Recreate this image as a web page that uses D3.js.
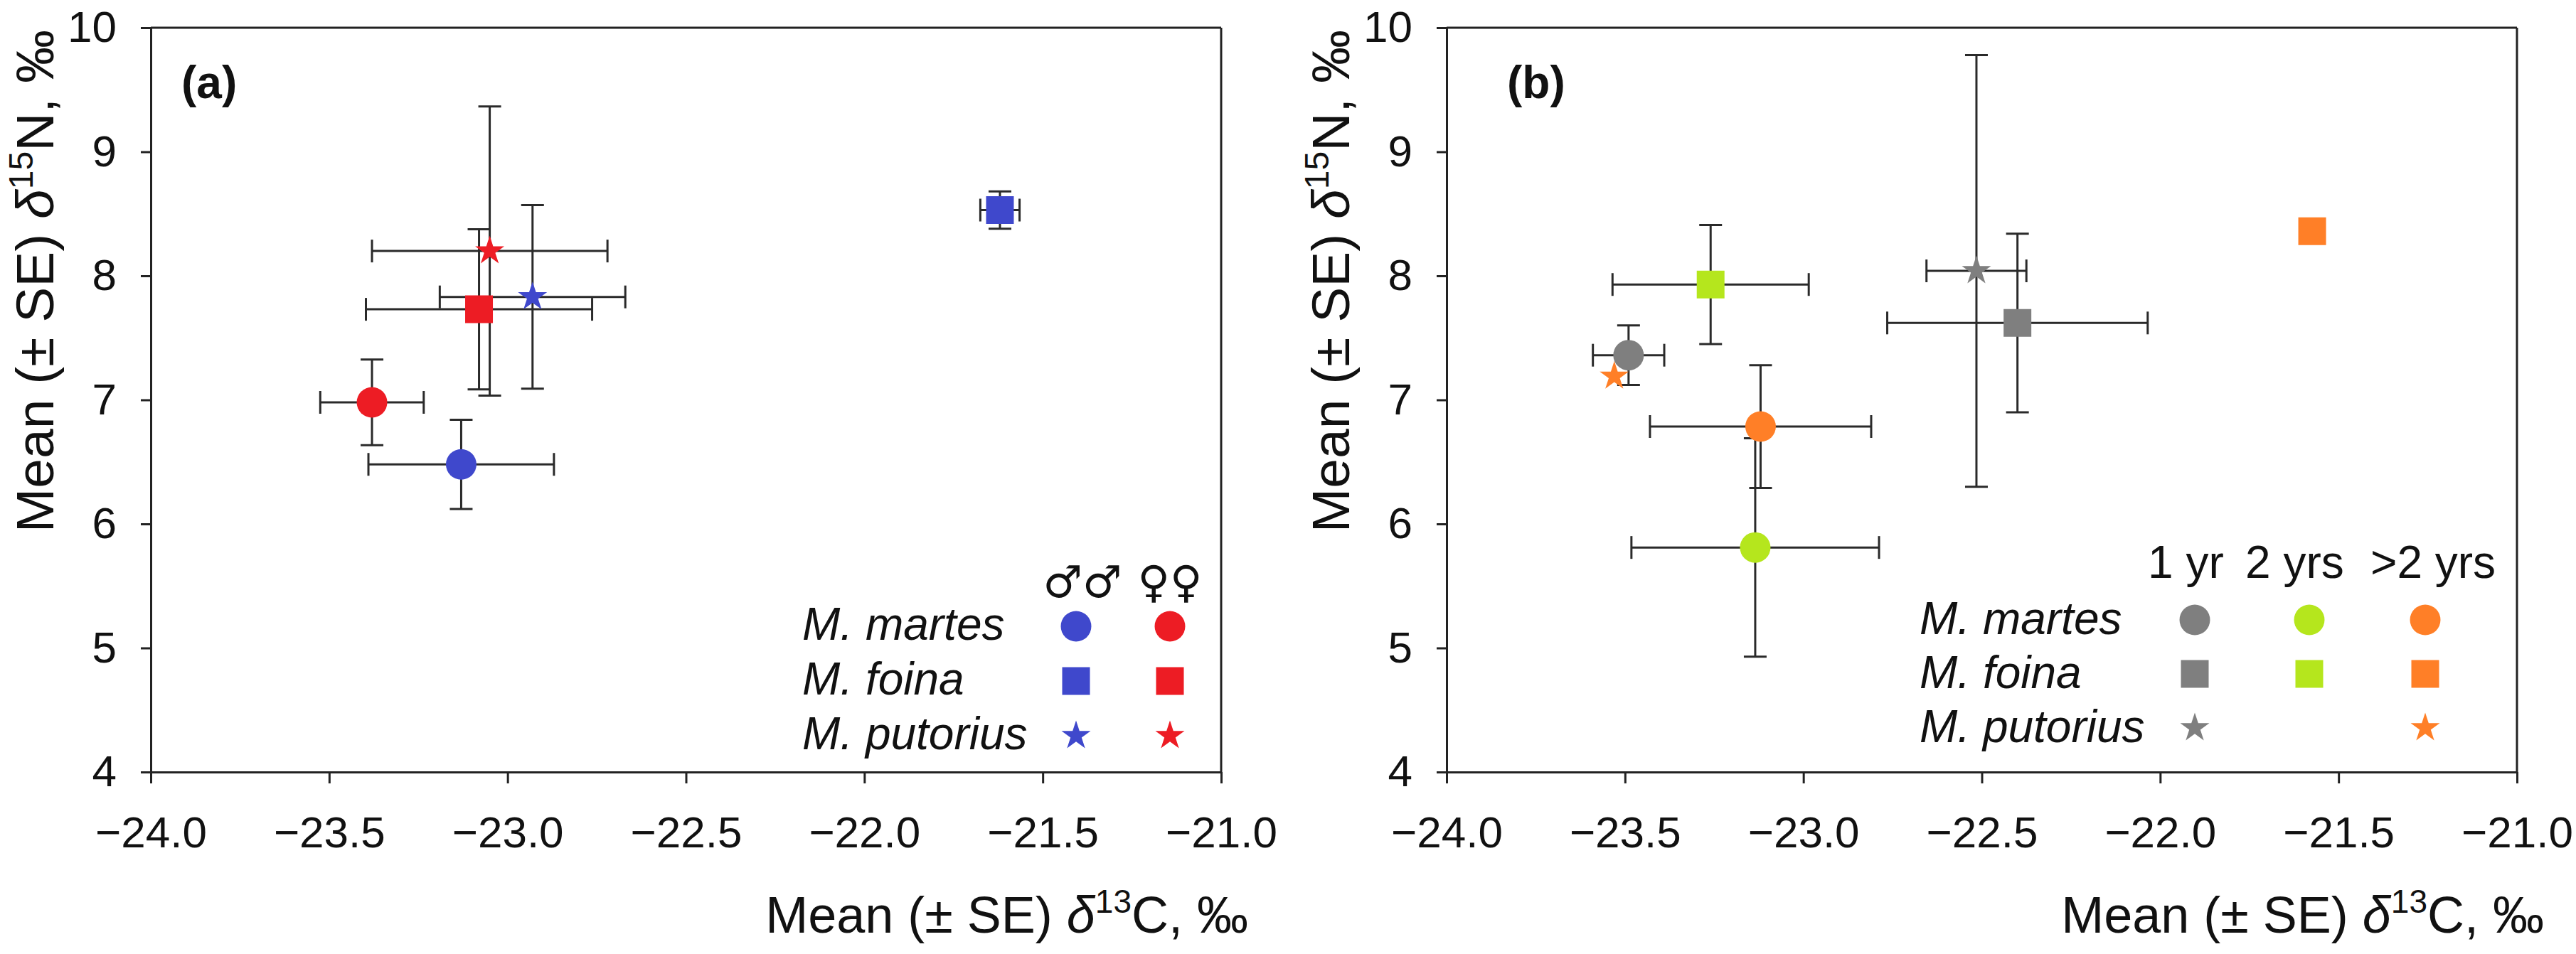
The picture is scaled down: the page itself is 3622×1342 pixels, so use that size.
<!DOCTYPE html>
<html>
<head>
<meta charset="utf-8">
<script src="https://cdn.jsdelivr.net/npm/d3@7"></script>
<style>
  body { margin: 0; background: #fff; }
  svg { display: block; font-family: "Liberation Sans", Arial, sans-serif; }
  .axis path, .axis line { stroke: #222; stroke-width: 3; }
  .axis text { font-size: 62px; fill: #111; }
  .frame { stroke: #222; stroke-width: 3; }
  .err { stroke: #2a2a2a; stroke-width: 3; fill: none; }
</style>
</head>
<body>
<svg></svg>
<script>
const width = 3622;
const height = 1342;

// axis ticks (shared by both panels)
const xTicks = [-24, -23.5, -23, -22.5, -22, -21.5, -21];
const yTicks = [4, 5, 6, 7, 8, 9, 10];

// panel (a): sex
const sexLabels = ["♂♂", "♀♀"];
const speciesLabels = ["M. martes", "M. foina", "M. putorius"];
const aSpecies = ["M. martes", "M. martes", "M. foina", "M. foina", "M. putorius", "M. putorius"];
const aSex = ["♂♂", "♀♀", "♂♂", "♀♀", "♂♂", "♀♀"];
const aC = [-23.13, -23.38, -21.62, -23.08, -22.93, -23.05];
const aCse = [0.26, 0.145, 0.055, 0.317, 0.26, 0.33];
const aN = [6.48, 6.98, 8.53, 7.73, 7.83, 8.20];
const aNse = [0.36, 0.345, 0.15, 0.645, 0.74, 1.165];

// panel (b): age
const ageLabels = ["1 yr", "2 yrs", ">2 yrs"];
const bSpecies = ["M. martes", "M. martes", "M. martes", "M. foina", "M. foina", "M. foina", "M. putorius", "M. putorius"];
const bAge = ["1 yr", "2 yrs", ">2 yrs", "1 yr", "2 yrs", ">2 yrs", "1 yr", ">2 yrs"];
const bC = [-23.49, -23.135, -23.12, -22.40, -23.26, -21.574, -22.515, -23.53];
const bCse = [0.10, 0.347, 0.31, 0.365, 0.275, 0, 0.14, 0];
const bN = [7.36, 5.81, 6.785, 7.62, 7.93, 8.36, 8.04, 7.19];
const bNse = [0.24, 0.88, 0.495, 0.72, 0.48, 0, 1.74, 0];

const sexColor = d3.scaleOrdinal(sexLabels, ["#3F48CC", "#ED1C24"]);
const ageColor = d3.scaleOrdinal(ageLabels, ["#7F7F7F", "#B5E61D", "#FF7F27"]);
const shape = d3.scaleOrdinal(speciesLabels, [d3.symbolCircle, d3.symbolSquare, d3.symbolStar]);
const shapeSize = d3.scaleOrdinal(speciesLabels, [1450, 1521, 520]);

const svg = d3.select("svg")
    .attr("width", width)
    .attr("height", height);

const y = d3.scaleLinear().domain([4, 10]).range([1086, 39]);

function drawPanel(x0, label, labelX, points) {
    const x = d3.scaleLinear().domain([-24, -21]).range([x0, x0 + 1505]);
    const g = svg.append("g");

    g.append("g")
        .attr("class", "axis")
        .attr("transform", `translate(0,${y(4)})`)
        .call(d3.axisBottom(x).tickValues(xTicks).tickFormat(d3.format(".1f"))
            .tickSize(16).tickSizeOuter(0).tickPadding(46));

    g.append("g")
        .attr("class", "axis")
        .attr("transform", `translate(${x(-24)},0)`)
        .call(d3.axisLeft(y).tickValues(yTicks).tickFormat(d3.format("d"))
            .tickSize(14).tickSizeOuter(0).tickPadding(34));

    // top and right frame
    g.append("line").attr("class", "frame")
        .attr("x1", x(-24)).attr("x2", x(-21)).attr("y1", y(10)).attr("y2", y(10));
    g.append("line").attr("class", "frame")
        .attr("x1", x(-21)).attr("x2", x(-21)).attr("y1", y(10)).attr("y2", y(4));

    // axis titles
    const xt = g.append("text")
        .attr("x", x(-21) + 38)
        .attr("y", 1312)
        .attr("text-anchor", "end")
        .attr("font-size", 72)
        .attr("fill", "#111");
    xt.append("tspan").text("Mean (± SE) ");
    xt.append("tspan").attr("font-style", "italic").text("δ");
    xt.append("tspan").attr("font-size", 46).attr("dy", -28).text("13");
    xt.append("tspan").attr("dy", 28).text("C, ‰");

    const yt = g.append("text")
        .attr("transform", `translate(${x0 - 137},42) rotate(-90)`)
        .attr("text-anchor", "end")
        .attr("font-size", 75)
        .attr("fill", "#111");
    yt.append("tspan").text("Mean (± SE) ");
    yt.append("tspan").attr("font-style", "italic").text("δ");
    yt.append("tspan").attr("font-size", 48).attr("dy", -29).text("15");
    yt.append("tspan").attr("dy", 29).text("N, ‰");

    // panel label
    g.append("text")
        .attr("x", labelX)
        .attr("y", 138)
        .attr("font-size", 64)
        .attr("font-weight", "bold")
        .attr("fill", "#111")
        .text(label);

    // error bars
    const cap = 16;
    const bars = g.append("g").attr("class", "err");
    points.filter(d => d.cse > 0).forEach(d => {
        const cy = y(d.n), xl = x(d.c - d.cse), xr = x(d.c + d.cse);
        bars.append("line").attr("x1", xl).attr("x2", xr).attr("y1", cy).attr("y2", cy);
        bars.append("line").attr("x1", xl).attr("x2", xl).attr("y1", cy - cap).attr("y2", cy + cap);
        bars.append("line").attr("x1", xr).attr("x2", xr).attr("y1", cy - cap).attr("y2", cy + cap);
    });
    points.filter(d => d.nse > 0).forEach(d => {
        const cx = x(d.c), yt2 = y(d.n + d.nse), yb = y(d.n - d.nse);
        bars.append("line").attr("x1", cx).attr("x2", cx).attr("y1", yt2).attr("y2", yb);
        bars.append("line").attr("x1", cx - cap).attr("x2", cx + cap).attr("y1", yt2).attr("y2", yt2);
        bars.append("line").attr("x1", cx - cap).attr("x2", cx + cap).attr("y1", yb).attr("y2", yb);
    });

    // markers
    g.selectAll(".pt")
        .data(points)
        .join("path")
        .attr("class", "pt")
        .attr("transform", d => `translate(${x(d.c)},${y(d.n)})`)
        .attr("d", d => d3.symbol(shape(d.species), shapeSize(d.species))())
        .attr("fill", d => d.color);

    return g;
}

// panel (a)
const pointsA = aC.map((c, i) => ({
    c: c, cse: aCse[i], n: aN[i], nse: aNse[i],
    species: aSpecies[i], color: sexColor(aSex[i])
}));
drawPanel(212, "(a)", 255, pointsA);

// panel (b)
const pointsB = bC.map((c, i) => ({
    c: c, cse: bCse[i], n: bN[i], nse: bNse[i],
    species: bSpecies[i], color: ageColor(bAge[i])
}));
drawPanel(2034, "(b)", 2119, pointsB);

// legend (a)
const legA = svg.append("g");
const colA = [1513, 1645];
const rowsA = [881, 958, 1035];
legA.selectAll(".hdr")
    .data(sexLabels)
    .join("text")
    .attr("x", (d, i) => colA[i] + (i === 0 ? 9 : 0))
    .attr("y", 840)
    .attr("text-anchor", "middle")
    .attr("font-family", "DejaVu Sans")
    .attr("font-size", 62)
    .attr("fill", "#111")
    .text(d => d);
legA.selectAll(".sp")
    .data(speciesLabels)
    .join("text")
    .attr("x", 1128)
    .attr("y", (d, i) => rowsA[i] + 19)
    .attr("font-size", 64)
    .attr("font-style", "italic")
    .attr("fill", "#111")
    .text(d => d);
speciesLabels.forEach((sp, i) => {
    sexLabels.forEach((sx, j) => {
        legA.append("path")
            .attr("transform", `translate(${colA[j]},${rowsA[i]})`)
            .attr("d", d3.symbol(shape(sp), shapeSize(sp))())
            .attr("fill", sexColor(sx));
    });
});

// legend (b)
const legB = svg.append("g");
const colB = [3086, 3247, 3410];
const hdrB = [3020, 3157, 3333];
const rowsB = [872, 948, 1024];
legB.selectAll(".hdr")
    .data(ageLabels)
    .join("text")
    .attr("x", (d, i) => hdrB[i])
    .attr("y", 813)
    .attr("font-size", 64)
    .attr("fill", "#111")
    .text(d => d);
legB.selectAll(".sp")
    .data(speciesLabels)
    .join("text")
    .attr("x", 2699)
    .attr("y", (d, i) => rowsB[i] + 20)
    .attr("font-size", 64)
    .attr("font-style", "italic")
    .attr("fill", "#111")
    .text(d => d);
bSpecies.forEach((sp, i) => {
    const j = ageLabels.indexOf(bAge[i]);
    legB.append("path")
        .attr("transform", `translate(${colB[j]},${rowsB[speciesLabels.indexOf(sp)]})`)
        .attr("d", d3.symbol(shape(sp), shapeSize(sp))())
        .attr("fill", ageColor(bAge[i]));
});
</script>
</body>
</html>
